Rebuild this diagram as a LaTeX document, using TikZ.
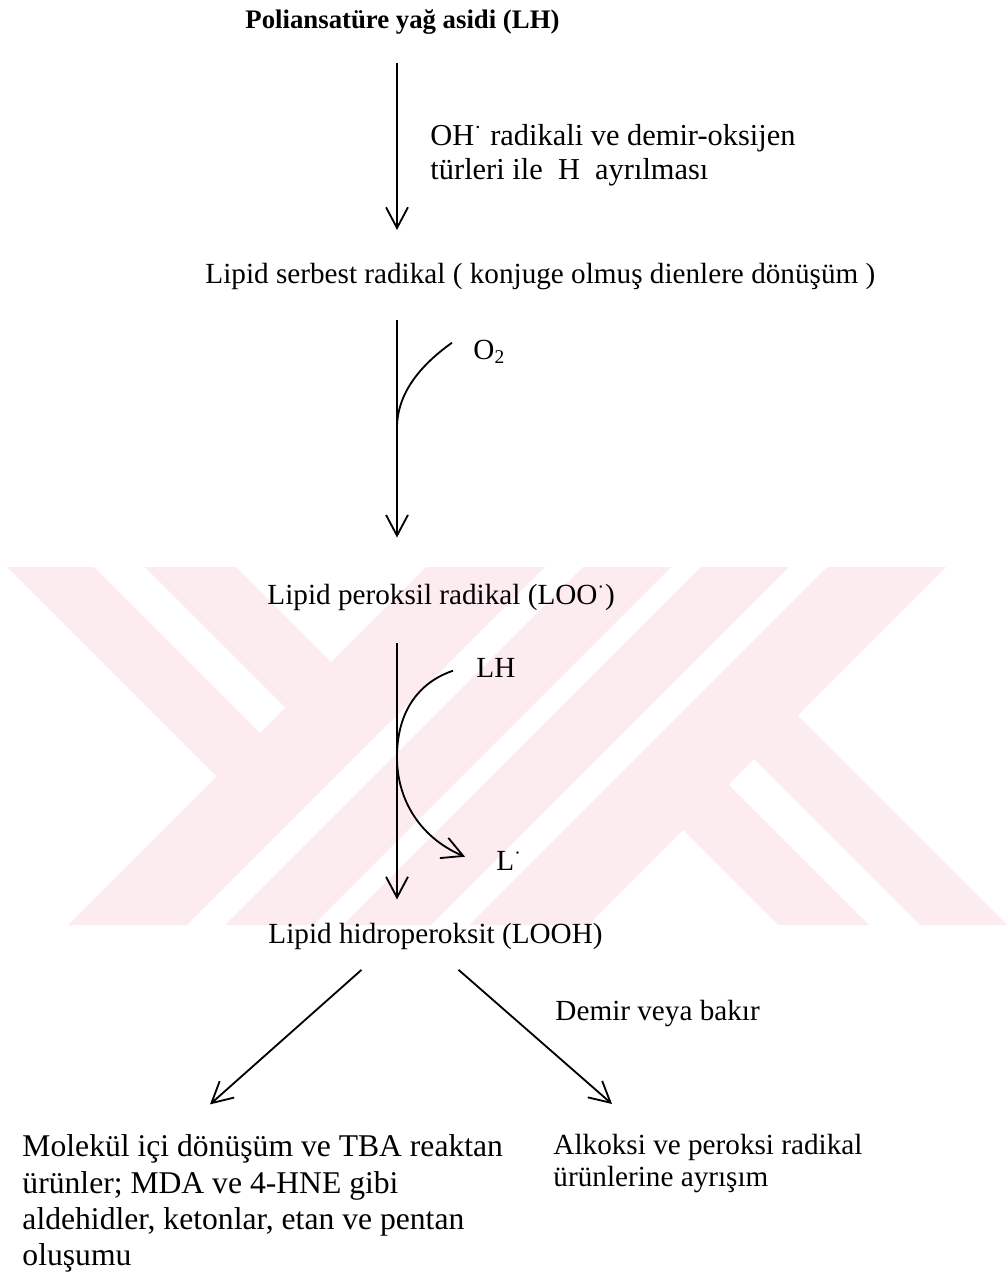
\documentclass[tikz,border=0pt]{standalone}
\usepackage{fontspec}
\setmainfont{Liberation Serif}
\usetikzlibrary{arrows.meta}
\definecolor{watermark}{RGB}{252,235,239}
\tikzstyle{txt} = [inner sep=0pt, anchor=base west, text height=8.6pt, text depth=2.6pt, font=\fontsize{12}{14}\selectfont]
\tikzstyle{para} = [inner sep=0pt, anchor=north west, align=left]
\tikzstyle{arrow} = [line width=0.75pt, -{Straight Barb[length=8.5pt, width=9pt]}]
\tikzstyle{branch} = [line width=0.75pt]

\begin{document}
\begin{tikzpicture}[x=0.411pt, y=-0.411pt]
        \useasboundingbox (0,0) rectangle (1007,1274);

        \begin{scope}
            \clip (0,567) rectangle (1007,925);
            \fill [watermark] (426,567) -- (545,567) -- (187,925) -- (68,925) -- cycle;
            \fill [watermark] (583,567) -- (671,567) -- (313,925) -- (225,925) -- cycle;
            \fill [watermark] (701,567) -- (789,567) -- (431,925) -- (343,925) -- cycle;
            \fill [watermark] (827,567) -- (946,567) -- (588,925) -- (469,925) -- cycle;
            \fill [watermark] (7,567) -- (94,567) -- (263.5,736.5) -- (220,780) -- cycle;
            \fill [watermark] (145,567) -- (236,567) -- (334.5,665.5) -- (289,711) -- cycle;
            \fill [watermark] (869,925) -- (778,925) -- (679.5,826.5) -- (725,781) -- cycle;
            \fill [watermark] (1007,925) -- (920,925) -- (750.5,755.5) -- (794,712) -- cycle;
        \end{scope}

        \node (title) [txt, font=\fontsize{11}{13}\selectfont\bfseries] at (245,29) {
            Poliansatüre yağ asidi (LH)
        };

        \node (ohlabel) [para, font=\fontsize{12.5}{14}\selectfont] at (430,124) {
            OH\textsuperscript{·} radikali ve demir-oksijen\\türleri ile\hspace{0.5em}H\hspace{0.5em}ayrılması
        };

        \node (serbest) [txt] at (205,283) {
            Lipid serbest radikal ( konjuge olmuş dienlere dönüşüm )
        };

        \node (otwo) [txt] at (473,359) {O\textsubscript{2}};

        \node (peroksil) [txt] at (267,604) {
            Lipid peroksil radikal (LOO\textsuperscript{·})
        };

        \node (lh) [txt] at (476,677) {LH};

        \node (ldot) [txt] at (496,870) {L\textsuperscript{·}};

        \node (hidro) [txt] at (268,943) {
            Lipid hidroperoksit (LOOH)
        };

        \node (metal) [txt] at (555,1020) {
            Demir veya bakır
        };

        \node (molekul) [para, font=\fontsize{13}{14.9}\selectfont] at (22,1134.4) {
            Molekül içi dönüşüm ve TBA reaktan\\ürünler; MDA ve 4-HNE gibi\\aldehidler, ketonlar, etan ve pentan\\oluşumu
        };

        \node (alkoksi) [para, font=\fontsize{12}{13.2}\selectfont] at (553,1134) {
            Alkoksi ve peroksi radikal\\ürünlerine ayrışım
        };

        \coordinate (spine) at (397,0);
        \coordinate (otwojoin) at (397,428);
        \coordinate (lhjoin) at (397,757);

        \draw [arrow, shorten <=11pt, shorten >=13pt] (title.south -| spine) -- (serbest.north -| spine);
        \draw [arrow, shorten <=12.4pt, shorten >=18.5pt] (serbest.south -| spine) -- (peroksil.north -| spine);
        \draw [arrow, shorten <=13.4pt, shorten >=9.1pt] (peroksil.south -| spine) -- (hidro.north -| spine);
        \draw [branch] ([shift={(-21,-9)}]otwo.west) .. controls (425,362) and (397,390) .. (otwojoin);
        \draw [arrow] ([shift={(-23,1)}]lh.west) .. controls (425,680) and (397,705) .. (lhjoin)
            .. controls (397,805) and (425,840) .. ([shift={(-31,-6)}]ldot.west);
        \draw [arrow] ([shift={(-74,20)}]hidro.south) -- ([shift={(188,-30)}]molekul.north west);
        \draw [arrow] ([shift={(23,20)}]hidro.south) -- ([shift={(59,-30)}]alkoksi.north west);
    \end{tikzpicture}
\end{document}
